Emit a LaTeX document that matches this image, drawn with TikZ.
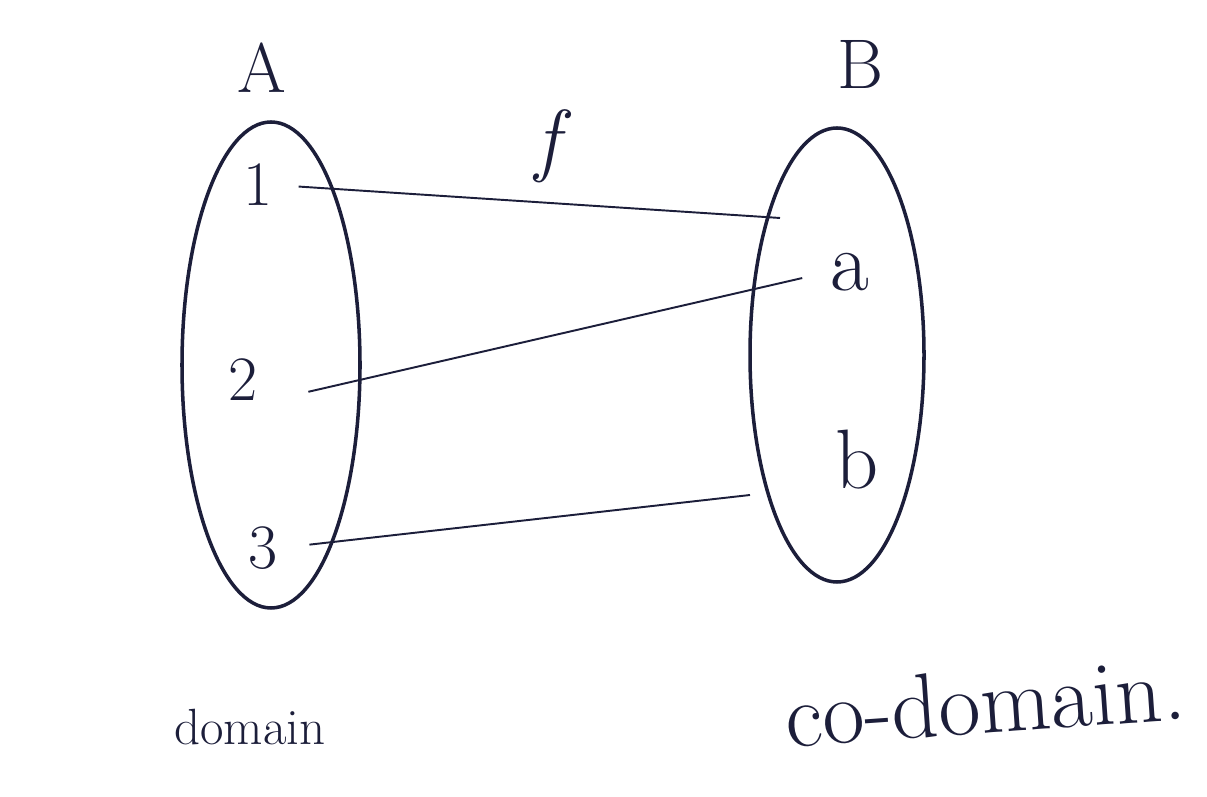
\documentclass[tikz,border=0pt]{standalone}
\usetikzlibrary{shapes.geometric}
\definecolor{ink}{RGB}{28,30,58}
\tikzset{
  setbox/.style={ellipse, draw=ink, line width=2pt, inner sep=0pt},
  elem/.style={text=ink, font=\fontsize{36}{40}\selectfont, inner sep=1pt},
  belem/.style={text=ink, font=\fontsize{48}{52}\selectfont, inner sep=1pt},
  slab/.style={text=ink, font=\fontsize{40}{44}\selectfont},
  maplin/.style={ink, line width=1.1pt},
}
\begin{document}
\begin{tikzpicture}
\useasboundingbox (0,0) rectangle (24.14,15.94);
% the two sets
\node[setbox, minimum width=3.56cm, minimum height=9.72cm] (setA) at (5.42,8.64) {};
\node[setbox, minimum width=3.48cm, minimum height=9.08cm] (setB) at (16.74,8.84) {};
\node[slab] (labA) at (5.24,14.58) {A};
\node[slab] (labB) at (17.2,14.64) {B};
\node[slab, font=\fontsize{46}{50}\selectfont\itshape] (labf) at (10.96,13.02) {f};
% elements
\node[elem] (e1) at (5.16,12.24) {1};
\node[elem] (e2) at (4.86,8.34) {2};
\node[elem] (e3) at (5.26,4.98) {3};
\node[belem] (ea) at (17.0,10.5) {a};
\node[belem] (eb) at (17.14,6.74) {b};
\coordinate (t1) at (15.6,11.58);
\coordinate (t3) at (15.0,6.04);
% the mapping
\draw[maplin, shorten <=0.48cm] (e1.east) -- (t1);
\draw[maplin, shorten <=1.0cm, shorten >=0.54cm] (e2.south east) -- (ea.west);
\draw[maplin, shorten <=0.6cm] (e3.east) -- (t3);
\node[text=ink, font=\fontsize{29}{32}\selectfont] (dom) at (5.0,1.4) {domain};
\node[text=ink, font=\fontsize{52}{56}\selectfont, rotate=4] (codom) at (19.7,1.9) {co-domain.};
\end{tikzpicture}
\end{document}
